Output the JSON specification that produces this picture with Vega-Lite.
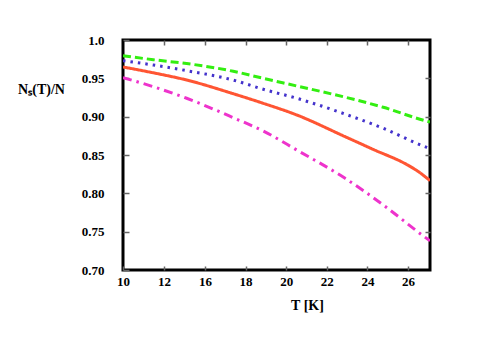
{
  "$schema": "https://vega.github.io/schema/vega-lite/v6.json",
  "width": 307,
  "height": 230,
  "autosize": "none",
  "padding": {"left": 123, "top": 40, "right": 54, "bottom": 77},
  "background": "white",
  "config": {
    "view": {"stroke": "black", "strokeWidth": 3},
    "font": "Liberation Serif",
    "axis": {
      "labelFont": "Liberation Serif",
      "labelFontWeight": "bold",
      "labelFontSize": 13,
      "labelColor": "black",
      "labelFlush": false,
      "titleFont": "Liberation Serif",
      "titleFontWeight": "bold",
      "titleFontSize": 14,
      "titleColor": "black",
      "grid": false,
      "domain": false,
      "tickColor": "#666",
      "tickWidth": 1.5
    }
  },
  "data": {
    "values": [
      {"s": "A", "T": 10, "v": 0.9795},
      {"s": "A", "T": 11.48, "v": 0.9743},
      {"s": "A", "T": 14.21, "v": 0.9693},
      {"s": "A", "T": 17.39, "v": 0.9592},
      {"s": "A", "T": 18.87, "v": 0.95},
      {"s": "A", "T": 20.52, "v": 0.94},
      {"s": "A", "T": 22.81, "v": 0.926},
      {"s": "A", "T": 24.78, "v": 0.9122},
      {"s": "A", "T": 26.84, "v": 0.8947},
      {"s": "A", "T": 27.08, "v": 0.893},
      {"s": "B", "T": 10, "v": 0.973},
      {"s": "B", "T": 11.48, "v": 0.9674},
      {"s": "B", "T": 14.21, "v": 0.96},
      {"s": "B", "T": 17.38, "v": 0.9478},
      {"s": "B", "T": 18.87, "v": 0.9357},
      {"s": "B", "T": 20.52, "v": 0.924},
      {"s": "B", "T": 22.65, "v": 0.9057},
      {"s": "B", "T": 24.78, "v": 0.8848},
      {"s": "B", "T": 26.92, "v": 0.86},
      {"s": "B", "T": 27.08, "v": 0.8585},
      {"s": "C", "T": 10, "v": 0.9648},
      {"s": "C", "T": 11.46, "v": 0.9573},
      {"s": "C", "T": 14.21, "v": 0.9478},
      {"s": "C", "T": 17.48, "v": 0.9292},
      {"s": "C", "T": 18.87, "v": 0.9174},
      {"s": "C", "T": 20.52, "v": 0.9022},
      {"s": "C", "T": 22.9, "v": 0.8739},
      {"s": "C", "T": 24.29, "v": 0.8572},
      {"s": "C", "T": 25.94, "v": 0.8375},
      {"s": "C", "T": 26.5, "v": 0.8285},
      {"s": "C", "T": 27.08, "v": 0.8165},
      {"s": "D", "T": 10, "v": 0.951},
      {"s": "D", "T": 11.48, "v": 0.9391},
      {"s": "D", "T": 14.21, "v": 0.924},
      {"s": "D", "T": 17.39, "v": 0.8987},
      {"s": "D", "T": 18.87, "v": 0.8813},
      {"s": "D", "T": 20.52, "v": 0.8565},
      {"s": "D", "T": 22.9, "v": 0.8196},
      {"s": "D", "T": 24.78, "v": 0.7848},
      {"s": "D", "T": 26.75, "v": 0.7444},
      {"s": "D", "T": 27.08, "v": 0.738}
    ]
  },
  "layer": [
    {
      "mark": {"type": "line", "strokeWidth": 3, "clip": true, "interpolate": "monotone"},
      "encoding": {
        "x": {
          "field": "T", "type": "quantitative",
          "scale": {"domain": [10, 12, 16, 27.08], "range": [0, 41, 82, 307], "nice": false, "zero": false},
          "axis": {
            "orient": "bottom",
            "title": "T [K]",
            "values": [10, 12, 16, 18, 20, 22, 24, 26],
            "tickSize": -4,
            "labelPadding": 9,
            "titleX": 184,
            "titleY": 35,
            "titleAnchor": null,
            "titleAlign": "center",
            "titleBaseline": "middle"
          }
        },
        "y": {
          "field": "v", "type": "quantitative",
          "scale": {"domain": [0.7, 1.0], "nice": false, "zero": false},
          "axis": {
            "orient": "left",
            "title": "Nₛ(T)/N",
            "values": [0.7, 0.75, 0.8, 0.85, 0.9, 0.95, 1.0],
            "labelExpr": "datum.value > 0.99 ? '1.0' : format(datum.value, '.2f')",
            "tickSize": -6,
            "labelPadding": 25,
            "titleAngle": 0,
            "titleX": -82,
            "titleY": 49,
            "titleAlign": "center",
            "titleBaseline": "middle"
          }
        },
        "color": {
          "field": "s", "type": "nominal", "legend": null,
          "scale": {"domain": ["A", "B", "C", "D"], "range": ["#33ee11", "#4433cc", "#ff5533", "#ee33cc"]}
        },
        "strokeDash": {
          "field": "s", "type": "nominal", "legend": null,
          "scale": {"domain": ["A", "B", "C", "D"], "range": [[8, 4], [2.5, 5], [1, 0], [9, 5, 2.5, 5]]}
        }
      }
    },
    {
      "mark": {"type": "line", "opacity": 0},
      "encoding": {
        "x": {
          "field": "T", "type": "quantitative",
          "scale": {"domain": [10, 12, 16, 27.08], "range": [0, 41, 82, 307], "nice": false, "zero": false},
          "axis": {"orient": "top", "title": null, "labels": false, "values": [12, 16, 18, 20, 22, 24, 26], "tickSize": -5}
        },
        "y": {
          "field": "v", "type": "quantitative",
          "scale": {"domain": [0.7, 1.0], "nice": false, "zero": false},
          "axis": {"orient": "right", "title": null, "labels": false, "values": [0.75, 0.8, 0.85, 0.9, 0.95], "tickSize": -5}
        },
        "detail": {"field": "s", "type": "nominal"}
      }
    }
  ],
  "resolve": {"axis": {"x": "independent", "y": "independent"}}
}
